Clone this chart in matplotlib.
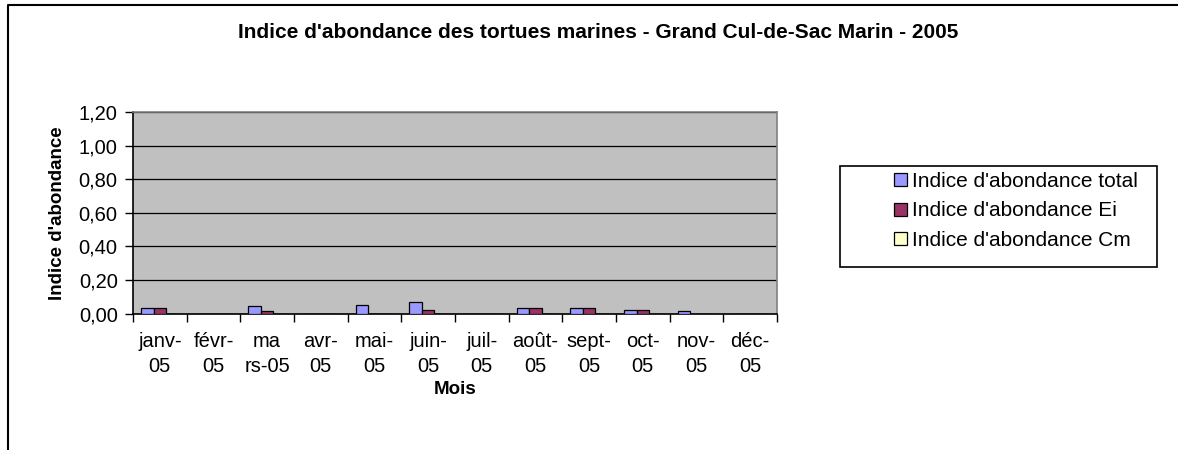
import matplotlib
matplotlib.use("Agg")
import matplotlib.pyplot as plt
from matplotlib.lines import Line2D
from matplotlib.patches import Rectangle, Patch
import numpy as np

plt.rcParams['font.family'] = ['Liberation Sans', 'DejaVu Sans']

# month labels as wrapped in the original chart
months = ["janv-\n05", "févr-\n05", "ma\nrs-05", "avr-\n05", "mai-\n05", "juin-\n05",
          "juil-\n05", "août-\n05", "sept-\n05", "oct-\n05", "nov-\n05", "déc-\n05"]
total = [0.032, 0, 0.042, 0, 0.052, 0.07, 0, 0.032, 0.034, 0.022, 0.014, 0]
ei = [0.032, 0, 0.014, 0, 0, 0.018, 0, 0.032, 0.034, 0.022, 0, 0]
cm = [0, 0, 0, 0, 0, 0, 0, 0, 0, 0, 0, 0]
series_names = ["Indice d'abondance total", "Indice d'abondance Ei", "Indice d'abondance Cm"]
colors = ["#9999FF", "#993366", "#FFFFCC"]
yticks = [0.0, 0.2, 0.4, 0.6, 0.8, 1.0, 1.2]

W, H = 1178, 450
fig = plt.figure(figsize=(W / 100, H / 100), dpi=100)
ax = fig.add_axes([133 / W, 1 - 313.5 / H, (777 - 133) / W, (313.5 - 112) / H])
ax.set_facecolor("#C0C0C0")

x = np.arange(len(months))
w = 0.233
for i, (vals, col) in enumerate(zip([total, ei, cm], colors)):
    ax.bar(x + (i - 1) * w, vals, width=w, color=col, edgecolor="black",
           linewidth=0.9, zorder=3)

ax.set_xlim(-0.5, len(months) - 0.5)
ax.set_ylim(0, 1.2)
ax.set_yticks(yticks)
ax.set_yticklabels([f"{v:.2f}".replace(".", ",") for v in yticks], fontsize=14.5)
ax.yaxis.grid(True, color="black", linewidth=0.9, zorder=1)
ax.set_axisbelow(True)

ax.set_xticks(x)
ax.set_xticklabels(months, fontsize=14.5, linespacing=1.4)
ax.set_xticks(np.arange(len(months) + 1) - 0.5, minor=True)
ax.tick_params(axis="x", which="major", length=0, pad=13)
ax.tick_params(axis="x", which="minor", length=6, width=1, direction="out")
ax.tick_params(axis="y", length=6, width=1, direction="out", pad=5)

for s in ["top", "right"]:
    ax.spines[s].set_color("#808080")
    ax.spines[s].set_linewidth(1.2)
for s in ["left", "bottom"]:
    ax.spines[s].set_color("black")
    ax.spines[s].set_linewidth(1.2)

ax.set_xlabel("Mois", fontsize=13.5, fontweight="bold", labelpad=4)
ax.set_ylabel("Indice d'abondance", fontsize=13.5, fontweight="bold", labelpad=9)

fig.text(598 / W, 1 - 33 / H, "Indice d'abondance des tortues marines - Grand Cul-de-Sac Marin - 2005",
         ha="center", va="center", fontsize=15, fontweight="bold")

# legend box
fig.patches.append(Rectangle((840 / W, 1 - 267 / H), (1157 - 840) / W, (267 - 166) / H,
                             transform=fig.transFigure, facecolor="white",
                             edgecolor="black", linewidth=1.2))
handles = [Patch(facecolor=c, edgecolor="black", linewidth=0.9) for c in colors]
fig.legend(handles, series_names, loc="center left", bbox_to_anchor=(884 / W, 1 - 211 / H),
           frameon=False, fontsize=15, handlelength=0.6, handleheight=0.6,
           handletextpad=0.25, labelspacing=0.5, borderpad=0)

# outer chart frame
fig.add_artist(Line2D([8 / W, 8 / W, 1.0], [0.0, 1 - 5 / H, 1 - 5 / H],
                      transform=fig.transFigure, color="black", linewidth=1.5))

fig.savefig("out.png", dpi=100)
